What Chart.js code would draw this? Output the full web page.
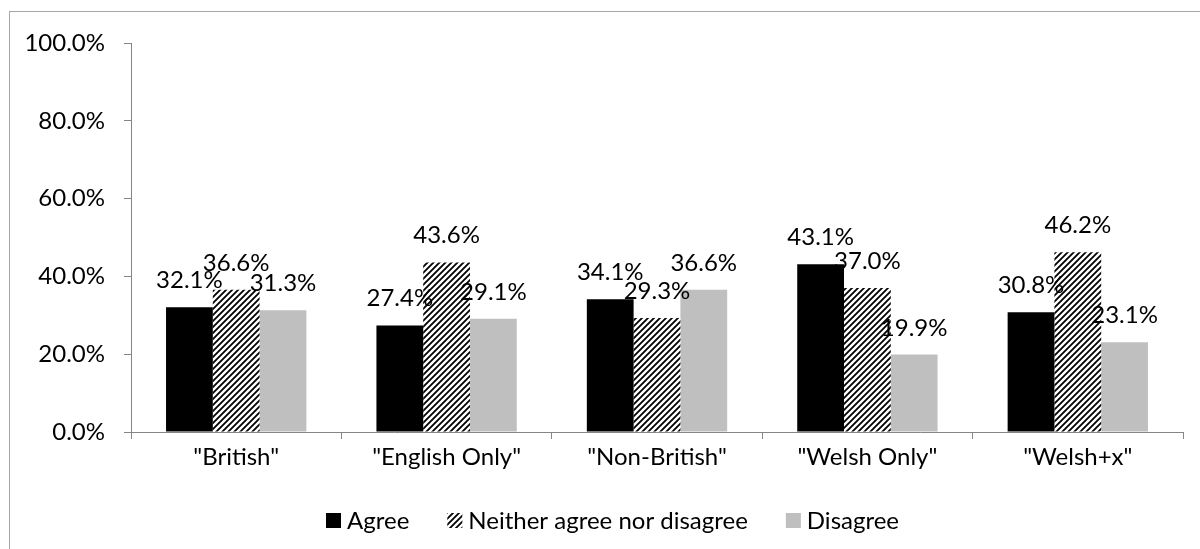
<!DOCTYPE html>
<html>
<head>
<meta charset="utf-8">
<script src="https://cdn.jsdelivr.net/npm/chart.js@4"></script>
<style>
  html, body { margin: 0; padding: 0; background: #fff; }
  #wrap { width: 1200px; height: 549px; position: relative; }
</style>
</head>
<body>
<div id="wrap"><canvas id="myChart" width="1200" height="549"></canvas></div>
<script>
let categories = ['"British"', '"English Only"', '"Non-British"', '"Welsh Only"', '"Welsh+x"'];
let agreeVals = [32.1, 27.4, 34.1, 43.1, 30.8];
let neitherVals = [36.6, 43.6, 29.3, 37.0, 46.2];
let disagreeVals = [31.3, 29.1, 36.6, 19.9, 23.1];
let seriesNames = ['Agree', 'Neither agree nor disagree', 'Disagree'];
let yTicks = [0, 20, 40, 60, 80, 100];

let fontFamily = 'Lato, "Open Sans", sans-serif';
let fontSize = 24;
let axisColor = '#868686';

// diagonal hatch like Excel's upward diagonal
function makeHatch() {
    let size = 6;
    let c = document.createElement('canvas');
    c.width = size;
    c.height = size;
    let g = c.getContext('2d');
    g.fillStyle = '#fff';
    g.fillRect(0, 0, size, size);
    g.strokeStyle = '#000';
    g.lineWidth = 1.8;
    g.beginPath();
    g.moveTo(-1, size + 1);
    g.lineTo(size + 1, -1);
    g.moveTo(-1, 1);
    g.lineTo(1, -1);
    g.moveTo(size - 1, size + 1);
    g.lineTo(size + 1, size - 1);
    g.stroke();
    return g.createPattern(c, 'repeat');
}
let hatch = makeHatch();
let colors = ['#000000', hatch, '#bfbfbf'];

// outer chart border (only top/left are inside the picture)
let borderPlugin = {
    id: 'outerBorder',
    beforeDraw(chart) {
        let ctx = chart.ctx;
        ctx.save();
        ctx.fillStyle = '#fff';
        ctx.fillRect(0, 0, chart.width, chart.height);
        ctx.strokeStyle = '#a6a6a6';
        ctx.lineWidth = 1;
        ctx.strokeRect(9.5, 11.5, chart.width + 20, chart.height + 20);
        ctx.restore();
    }
};

let labelPlugin = {
    id: 'barLabels',
    afterDatasetsDraw(chart) {
        let ctx = chart.ctx;
        ctx.save();
        ctx.font = fontSize + 'px ' + fontFamily;
        ctx.fillStyle = '#000';
        ctx.textAlign = 'center';
        ctx.textBaseline = 'alphabetic';
        chart.data.datasets.forEach(function (ds, i) {
            let meta = chart.getDatasetMeta(i);
            meta.data.forEach(function (bar, j) {
                ctx.fillText(ds.data[j].toFixed(1) + '%', bar.x, bar.y - 19);
            });
        });
        ctx.restore();
    }
};

let legendPlugin = {
    id: 'bottomLegend',
    afterDraw(chart) {
        let ctx = chart.ctx;
        let box = 15;
        let gap = 6;
        let spacing = 38;
        let centerX = 613;
        let y = 520;
        ctx.save();
        ctx.font = fontSize + 'px ' + fontFamily;
        let widths = chart.data.datasets.map(function (ds) {
            return box + gap + ctx.measureText(ds.label).width;
        });
        let total = widths.reduce(function (a, b) { return a + b; }, 0) + spacing * (widths.length - 1);
        let x = Math.round(centerX - total / 2);
        chart.data.datasets.forEach(function (ds, i) {
            ctx.fillStyle = ds.backgroundColor;
            ctx.fillRect(x, Math.round(y - box / 2), box, box);
            ctx.fillStyle = '#000';
            ctx.textAlign = 'left';
            ctx.textBaseline = 'middle';
            ctx.fillText(ds.label, x + box + gap, y + 1);
            x += widths[i] + spacing;
        });
        ctx.restore();
    }
};

let ctx = document.getElementById('myChart').getContext('2d');
let myChart = new Chart(ctx, {
    type: 'bar',
    data: {
        labels: categories,
        datasets: [
            { label: seriesNames[0], data: agreeVals, backgroundColor: colors[0] },
            { label: seriesNames[1], data: neitherVals, backgroundColor: colors[1] },
            { label: seriesNames[2], data: disagreeVals, backgroundColor: colors[2] }
        ]
    },
    options: {
        responsive: false,
        animation: false,
        events: [],
        categoryPercentage: 0.667,
        barPercentage: 1.0,
        layout: {
            padding: { top: 43, right: 17, bottom: 77, left: 0 }
        },
        plugins: {
            legend: { display: false },
            tooltip: { enabled: false }
        },
        scales: {
            x: {
                offset: true,
                grid: {
                    display: true,
                    offset: true,
                    drawOnChartArea: false,
                    drawTicks: true,
                    tickLength: 7,
                    color: axisColor
                },
                border: { display: true, color: axisColor },
                ticks: {
                    color: '#000',
                    font: { family: fontFamily, size: fontSize },
                    padding: 4,
                    maxRotation: 0
                },
                afterFit(scale) { scale.height = 40; }
            },
            y: {
                min: 0,
                max: 100,
                afterBuildTicks(scale) {
                    scale.ticks = yTicks.map(function (v) { return { value: v }; });
                },
                grid: {
                    display: true,
                    drawOnChartArea: false,
                    drawTicks: true,
                    tickLength: 7,
                    color: axisColor
                },
                border: { display: true, color: axisColor },
                ticks: {
                    color: '#000',
                    font: { family: fontFamily, size: fontSize },
                    padding: 19,
                    callback: function (v) { return Number(v).toFixed(1) + '%'; }
                },
                afterFit(scale) { scale.width = 131; }
            }
        }
    },
    plugins: [borderPlugin, labelPlugin, legendPlugin]
});
</script>
</body>
</html>
